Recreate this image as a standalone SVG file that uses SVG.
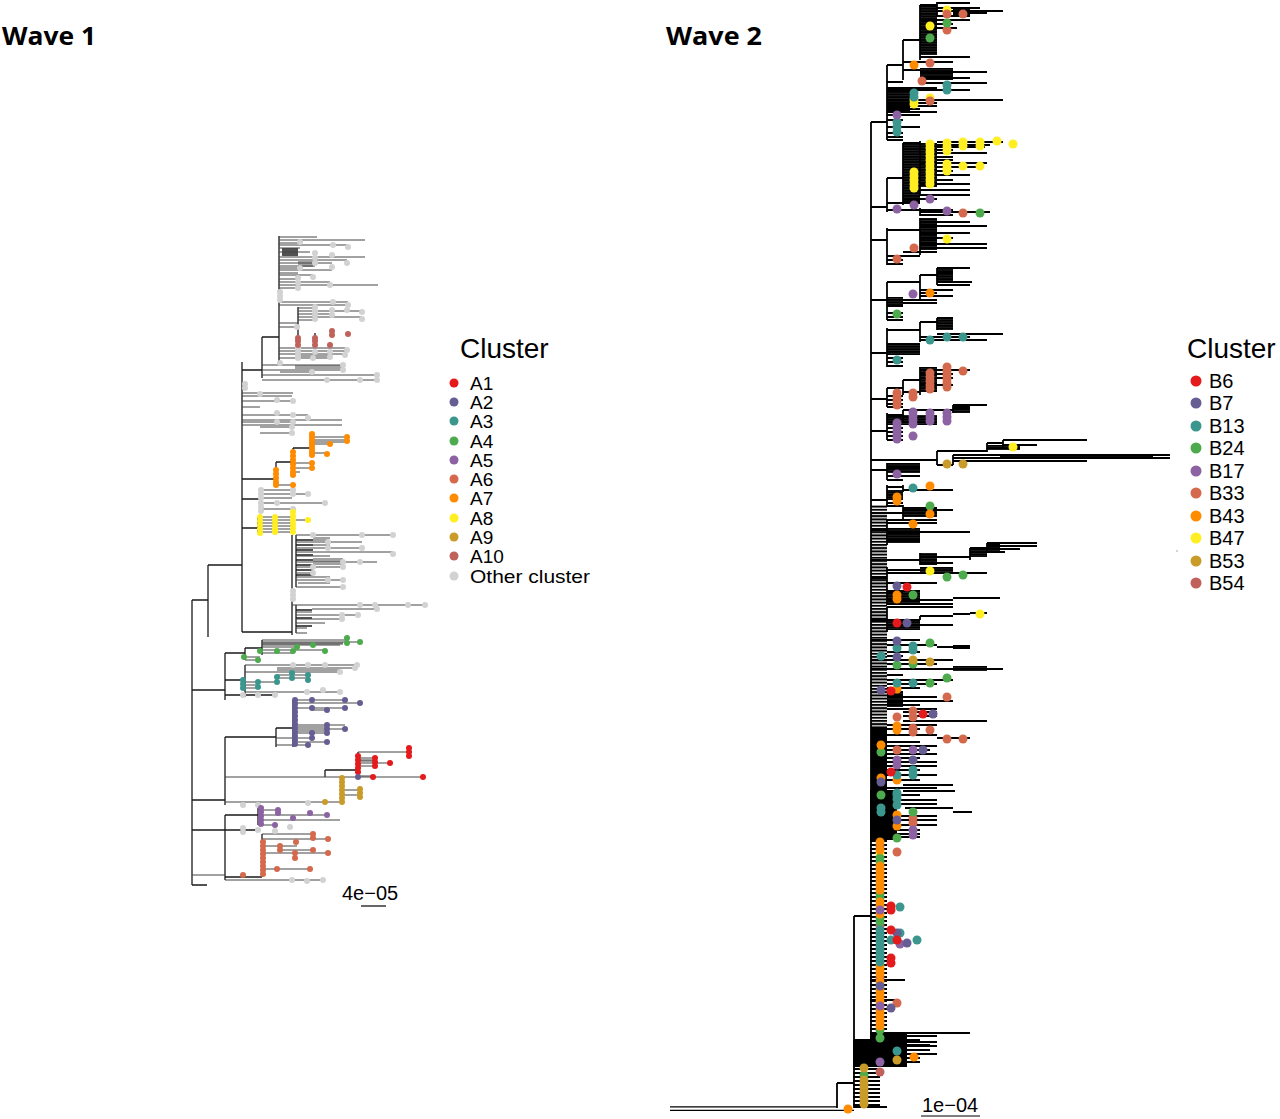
<svg xmlns="http://www.w3.org/2000/svg" width="1280" height="1119" viewBox="0 0 1280 1119">
<style>
.t{font-family:"Open Sans","Liberation Sans",sans-serif;font-weight:bold;font-size:25px;fill:#000}
.lg{font-family:"Liberation Sans",Arial,sans-serif;fill:#000}
.w1l{stroke:#444;stroke-width:1;fill:none}
.w1d{stroke:#1a1a1a;stroke-width:1.3;fill:none}
.w2l{stroke:#000;stroke-width:1.8;fill:none}
.w1 circle{r:3px}
.w2 circle{r:4.5px}
.c0{fill:#d2d2d2}.c1{fill:#e41a1c}.c2{fill:#665e93}.c3{fill:#3b978e}.c4{fill:#4dab4d}.c5{fill:#8c62a3}.c6{fill:#d4694e}.c7{fill:#ff8c00}.c8{fill:#ffee22}.c9{fill:#c99c29}.c10{fill:#c0625b}
</style>
<defs>
<pattern id="comb" width="4" height="3.2" patternUnits="userSpaceOnUse"><rect width="4" height="2" fill="#000"/></pattern>
<pattern id="comb2" width="4" height="4" patternUnits="userSpaceOnUse"><rect width="4" height="2" fill="#000"/></pattern>
<pattern id="dense" width="4" height="2.6" patternUnits="userSpaceOnUse"><rect width="4" height="2.6" fill="#333"/><rect width="4" height="2" fill="#000"/></pattern>
</defs>
<rect width="1280" height="1119" fill="#fff"/>
<text class="t" x="2" y="45" textLength="94" lengthAdjust="spacingAndGlyphs">Wave 1</text>
<text class="t" x="666" y="45" textLength="96" lengthAdjust="spacingAndGlyphs">Wave 2</text>

<g id="wave1-tree" class="w1">
<path class="w1d" d="M192 600 V885 M192 885 H207 M192 600 H208 M208 565 V637 M208 565 H242 M242 362 V632 M242 632 H292 M292 535 V635 M242 370 H262 M262 337 V378 M262 337 H279 M279 236 V362 M298 307 V358 M315 333 V345 M242 479 H276 M276 462 V487 M276 462 H293 M293 448 V475 M293 448 H312 M312 433 V455 M242 499 H261 M261 488 V512 M242 528 H258 M258 517 V533 M296 535 V587 M296 605 V633 M192 690 H225 M225 653 V700 M225 653 H245 M245 648 V660 M245 648 H262 M262 640 V655 M225 680 H245 M245 665 V697 M192 800 H225 M225 737 V805 M225 737 H276 M276 728 V747 M276 728 H293 M293 700 V747 M325 770 V777 M325 770 H358 M358 752 V777 M342 778 V803 M225 815 H258 M258 807 V825 M192 830 H225 M225 815 V880 M225 877 H262 M262 834 V877 M282 249 H298 M282 251 H298 M282 253 H298 M282 255 H298 M225 830 H260 M225 695 H275 M296 540 H313 M296 545 H313 M296 550 H313 M296 555 H313 M296 560 H313 M296 565 H313 M296 570 H313 M296 575 H313 M296 610 H312 M296 618 H312 M296 626 H312"/>
<path class="w1l" d="M279 237 H317 M279 240 H365 M279 243 H300 M279 245 H348 M279 248 H300 M279 252 H310 M279 257 H365 M279 260 H347 M279 263 H332 M279 266 H315 M279 268 H300 M279 270 H332 M279 273 H298 M279 275 H313 M279 279 H298 M279 282 H330 M279 285 H378 M279 288 H298 M298 262 H313 M298 264 H313 M298 266 H313
M279 302 H348 M279 305 H348 M298 308 H315 M298 311 H362 M298 314 H332 M298 317 H362 M298 320 H315 M279 323 H298 M279 327 H297 M279 348 H345 M279 351 H347 M279 354 H345 M279 358 H330 M298 356 H330
M262 365 H343 M262 370 H343 M280 372 H312 M262 375 H377 M262 380 H377 M295 366 H343 M295 368 H343
M242 393 H293 M242 396 H292 M242 401 H293 M242 407 H260 M242 415 H308 M242 420 H342 M242 422 H293 M242 425 H342 M260 427 H292 M260 433 H292
M261 490 H293 M261 494 H308 M261 498 H292 M261 503 H325 M261 509 H293
M296 535 H393 M313 538 H330 M296 542 H362 M313 545 H330 M296 548 H362 M296 552 H393 M296 556 H330 M313 559 H343 M296 562 H377 M296 567 H343 M296 573 H313 M296 577 H330 M296 580 H343 M296 587 H343 M292 605 H425 M312 609 H377 M296 612 H312 M296 615 H358 M296 619 H342 M296 623 H325 M296 628 H307 M296 633 H307 M313 540 H328 M313 561 H343 M313 564 H343 M298 583 H330
M245 665 H357 M277 668 H355 M245 672 H340 M277 675 H308 M277 678 H308 M245 682 H277 M245 685 H258 M245 688 H260 M245 692 H340 M277 670 H340
M225 777 H423 M192 875 H225 M225 880 H323 M225 802 H342"/>
<path class="w1l" d="M312 437 H347 M312 440 H347 M312 442 H347 M312 444 H330 M312 453 H327 M293 463 H312 M293 468 H312 M293 472 H300 M276 485 H293
M258 517 H293 M258 520 H308 M258 523 H293 M258 526 H293 M258 529 H293 M258 532 H293
M262 640 H347 M262 642 H360 M262 643 H343 M262 644 H343 M262 645 H340 M262 647 H297 M262 650 H325 M262 653 H293 M245 657 H260 M245 660 H258
M293 700 H345 M293 703 H360 M293 708 H345 M312 710 H327 M293 725 H345 M293 727 H327 M293 729 H345 M293 731 H327 M293 733 H327 M276 738 H312 M293 742 H327 M276 745 H308
M358 752 H410 M358 758 H375 M358 760 H375 M358 761 H375 M358 763 H390 M358 766 H375 M358 776 H373 M342 790 H360 M342 795 H360
M258 810 H278 M258 815 H327 M258 820 H340 M258 825 H275
M262 834 H313 M262 839 H328 M262 846 H297 M280 850 H313 M262 853 H328 M262 869 H310"/>
<g class="c0">
<circle cx="300" cy="242"/><circle cx="333" cy="245"/><circle cx="348" cy="247"/><circle cx="315" cy="253"/><circle cx="332" cy="255"/><circle cx="315" cy="258"/><circle cx="315" cy="263"/><circle cx="347" cy="263"/><circle cx="332" cy="267"/><circle cx="300" cy="268"/><circle cx="313" cy="277"/><circle cx="298" cy="278"/><circle cx="298" cy="283"/><circle cx="298" cy="288"/><circle cx="330" cy="285"/><circle cx="280" cy="292"/><circle cx="280" cy="296"/><circle cx="280" cy="300"/>
<circle cx="333" cy="302"/><circle cx="348" cy="305"/><circle cx="315" cy="307"/><circle cx="315" cy="311"/><circle cx="315" cy="315"/><circle cx="315" cy="319"/><circle cx="332" cy="310"/><circle cx="347" cy="310"/><circle cx="362" cy="312"/><circle cx="332" cy="315"/><circle cx="362" cy="319"/><circle cx="297" cy="327"/><circle cx="298" cy="348"/><circle cx="298" cy="352"/><circle cx="298" cy="355"/><circle cx="315" cy="352"/><circle cx="330" cy="352"/><circle cx="347" cy="350"/><circle cx="345" cy="355"/><circle cx="298" cy="358"/><circle cx="313" cy="358"/><circle cx="330" cy="357"/><circle cx="280" cy="363"/><circle cx="343" cy="365"/><circle cx="343" cy="370"/><circle cx="312" cy="372"/><circle cx="377" cy="375"/><circle cx="360" cy="380"/><circle cx="377" cy="380"/><circle cx="327" cy="380"/>
<circle cx="245" cy="384"/><circle cx="245" cy="388"/><circle cx="260" cy="394"/><circle cx="277" cy="400"/><circle cx="293" cy="401"/><circle cx="277" cy="413"/><circle cx="293" cy="415"/><circle cx="308" cy="418"/><circle cx="277" cy="422"/><circle cx="293" cy="422"/><circle cx="292" cy="427"/><circle cx="292" cy="433"/>
<circle cx="261" cy="490"/><circle cx="293" cy="490"/><circle cx="261" cy="494"/><circle cx="293" cy="494"/><circle cx="308" cy="494"/><circle cx="261" cy="498"/><circle cx="261" cy="503"/><circle cx="277" cy="503"/><circle cx="325" cy="503"/><circle cx="261" cy="507"/><circle cx="261" cy="511"/><circle cx="293" cy="509"/>
<circle cx="313" cy="535"/><circle cx="362" cy="535"/><circle cx="393" cy="535"/><circle cx="328" cy="542"/><circle cx="328" cy="548"/><circle cx="362" cy="548"/><circle cx="393" cy="554"/><circle cx="343" cy="562"/><circle cx="360" cy="562"/><circle cx="313" cy="567"/><circle cx="343" cy="567"/><circle cx="313" cy="573"/><circle cx="328" cy="580"/><circle cx="343" cy="580"/><circle cx="343" cy="587"/><circle cx="293" cy="591"/><circle cx="293" cy="595"/><circle cx="293" cy="599"/><circle cx="360" cy="605"/><circle cx="375" cy="605"/><circle cx="408" cy="605"/><circle cx="425" cy="605"/><circle cx="377" cy="609"/><circle cx="342" cy="615"/><circle cx="358" cy="615"/><circle cx="342" cy="619"/>
<circle cx="293" cy="665"/><circle cx="308" cy="665"/><circle cx="325" cy="665"/><circle cx="357" cy="665"/><circle cx="355" cy="668"/><circle cx="340" cy="672"/><circle cx="307" cy="692"/><circle cx="323" cy="690"/><circle cx="340" cy="692"/><circle cx="243" cy="695"/><circle cx="258" cy="695"/><circle cx="275" cy="695"/>
<circle cx="308" cy="803"/><circle cx="258" cy="805"/><circle cx="243" cy="805"/><circle cx="243" cy="828"/><circle cx="243" cy="832"/><circle cx="258" cy="830"/><circle cx="275" cy="831"/><circle cx="290" cy="827"/><circle cx="292" cy="880"/><circle cx="307" cy="881"/><circle cx="323" cy="880"/>
</g>
<g class="c10"><circle cx="332" cy="331"/><circle cx="332" cy="335"/><circle cx="348" cy="334"/><circle cx="298" cy="338"/><circle cx="298" cy="341"/><circle cx="298" cy="345"/><circle cx="315" cy="338"/><circle cx="315" cy="341"/><circle cx="315" cy="345"/><circle cx="330" cy="345"/></g>
<g class="c7"><circle cx="312" cy="434"/><circle cx="312" cy="437"/><circle cx="312" cy="440"/><circle cx="312" cy="443"/><circle cx="312" cy="446"/><circle cx="312" cy="449"/><circle cx="312" cy="452"/><circle cx="312" cy="455"/><circle cx="347" cy="437"/><circle cx="347" cy="441"/><circle cx="330" cy="444"/><circle cx="327" cy="454"/><circle cx="312" cy="463"/><circle cx="312" cy="468"/><circle cx="293" cy="452"/><circle cx="293" cy="456"/><circle cx="293" cy="460"/><circle cx="293" cy="464"/><circle cx="293" cy="468"/><circle cx="293" cy="472"/><circle cx="293" cy="475"/><circle cx="276" cy="470"/><circle cx="276" cy="474"/><circle cx="276" cy="478"/><circle cx="276" cy="482"/><circle cx="276" cy="485"/><circle cx="293" cy="485"/></g>
<g class="c8"><circle cx="260" cy="517"/><circle cx="260" cy="521"/><circle cx="260" cy="525"/><circle cx="260" cy="529"/><circle cx="260" cy="533"/><circle cx="275" cy="517"/><circle cx="275" cy="521"/><circle cx="275" cy="525"/><circle cx="275" cy="529"/><circle cx="275" cy="532"/><circle cx="293" cy="512"/><circle cx="293" cy="516"/><circle cx="293" cy="520"/><circle cx="293" cy="524"/><circle cx="293" cy="528"/><circle cx="293" cy="532"/><circle cx="308" cy="520"/></g>
<g class="c4"><circle cx="347" cy="638"/><circle cx="347" cy="643"/><circle cx="360" cy="642"/><circle cx="313" cy="645"/><circle cx="297" cy="647"/><circle cx="260" cy="651"/><circle cx="277" cy="651"/><circle cx="293" cy="651"/><circle cx="325" cy="651"/><circle cx="244" cy="657"/><circle cx="258" cy="660"/></g>
<g class="c3"><circle cx="277" cy="677"/><circle cx="277" cy="682"/><circle cx="292" cy="673"/><circle cx="292" cy="678"/><circle cx="308" cy="675"/><circle cx="308" cy="680"/><circle cx="243" cy="680"/><circle cx="243" cy="684"/><circle cx="243" cy="688"/><circle cx="258" cy="682"/><circle cx="258" cy="687"/></g>
<g class="c2"><circle cx="295" cy="700"/><circle cx="295" cy="704"/><circle cx="295" cy="708"/><circle cx="295" cy="712"/><circle cx="295" cy="716"/><circle cx="295" cy="720"/><circle cx="295" cy="724"/><circle cx="295" cy="728"/><circle cx="295" cy="732"/><circle cx="295" cy="736"/><circle cx="295" cy="740"/><circle cx="295" cy="744"/><circle cx="312" cy="700"/><circle cx="345" cy="700"/><circle cx="360" cy="703"/><circle cx="312" cy="708"/><circle cx="345" cy="708"/><circle cx="327" cy="710"/><circle cx="327" cy="725"/><circle cx="327" cy="729"/><circle cx="345" cy="729"/><circle cx="327" cy="733"/><circle cx="312" cy="733"/><circle cx="312" cy="738"/><circle cx="327" cy="742"/><circle cx="308" cy="745"/></g>
<g class="c1"><circle cx="358" cy="756"/><circle cx="358" cy="760"/><circle cx="358" cy="764"/><circle cx="358" cy="768"/><circle cx="358" cy="772"/><circle cx="375" cy="758"/><circle cx="375" cy="762"/><circle cx="375" cy="766"/><circle cx="409" cy="748"/><circle cx="409" cy="752"/><circle cx="409" cy="756"/><circle cx="390" cy="763"/><circle cx="373" cy="777"/><circle cx="423" cy="777"/></g>
<g class="c2"><circle cx="358" cy="777"/></g>
<g class="c9"><circle cx="342" cy="778"/><circle cx="342" cy="782"/><circle cx="342" cy="786"/><circle cx="342" cy="790"/><circle cx="342" cy="794"/><circle cx="342" cy="798"/><circle cx="342" cy="802"/><circle cx="360" cy="789"/><circle cx="360" cy="793"/><circle cx="360" cy="797"/><circle cx="325" cy="802"/></g>
<g class="c5"><circle cx="261" cy="808"/><circle cx="261" cy="812"/><circle cx="261" cy="816"/><circle cx="261" cy="820"/><circle cx="261" cy="824"/><circle cx="278" cy="810"/><circle cx="278" cy="813"/><circle cx="293" cy="818"/><circle cx="310" cy="813"/><circle cx="327" cy="815"/><circle cx="275" cy="825"/></g>
<g class="c6"><circle cx="313" cy="834"/><circle cx="313" cy="838"/><circle cx="328" cy="839"/><circle cx="296" cy="842"/><circle cx="280" cy="846"/><circle cx="280" cy="850"/><circle cx="313" cy="850"/><circle cx="328" cy="853"/><circle cx="295" cy="853"/><circle cx="295" cy="858"/><circle cx="277" cy="869"/><circle cx="310" cy="869"/><circle cx="263" cy="842"/><circle cx="263" cy="846"/><circle cx="263" cy="850"/><circle cx="263" cy="854"/><circle cx="263" cy="858"/><circle cx="263" cy="862"/><circle cx="263" cy="866"/><circle cx="263" cy="870"/><circle cx="263" cy="874"/><circle cx="243" cy="875"/></g>
</g>
<g id="wave1-scale">
<path d="M361 906 H386" stroke="#000" stroke-width="1.2"/>
<text class="lg" x="342" y="900" font-size="20">4e−05</text>
</g>
<g id="wave1-legend" class="lg">
<text x="460" y="358" font-size="28">Cluster</text>
<g font-size="19">
<circle class="c1" cx="454" cy="383" r="4.5"/><text x="470" y="389.5">A1</text>
<circle class="c2" cx="454" cy="402" r="4.5"/><text x="470" y="408.5">A2</text>
<circle class="c3" cx="454" cy="421" r="4.5"/><text x="470" y="427.5">A3</text>
<circle class="c4" cx="454" cy="441" r="4.5"/><text x="470" y="447.5">A4</text>
<circle class="c5" cx="454" cy="460" r="4.5"/><text x="470" y="466.5">A5</text>
<circle class="c6" cx="454" cy="479" r="4.5"/><text x="470" y="485.5">A6</text>
<circle class="c7" cx="454" cy="498" r="4.5"/><text x="470" y="504.5">A7</text>
<circle class="c8" cx="454" cy="518" r="4.5"/><text x="470" y="524.5">A8</text>
<circle class="c9" cx="454" cy="537" r="4.5"/><text x="470" y="543.5">A9</text>
<circle class="c10" cx="454" cy="556" r="4.5"/><text x="470" y="562.5">A10</text>
<circle class="c0" cx="454" cy="576" r="4.5"/><text x="470" y="582.5" textLength="120" lengthAdjust="spacingAndGlyphs">Other cluster</text>
</g>
</g>

<g id="wave2-tree" class="w2">
<path d="M670 1106.8 H837 M670 1110.4 H854" stroke="#000" stroke-width="1.2" fill="none"/>
<g fill="url(#dense)">
<rect x="920" y="5" width="17" height="50"/><rect x="953" y="8" width="17" height="9"/><rect x="920" y="68" width="33" height="12"/><rect x="887" y="90" width="23" height="23"/>
<rect x="903" y="143" width="17" height="60"/><rect x="920" y="143" width="17" height="44"/><rect x="920" y="218" width="17" height="32"/>
<rect x="937" y="268" width="16" height="15"/><rect x="887" y="297" width="16" height="10"/><rect x="937" y="318" width="16" height="12"/><rect x="887" y="343" width="33" height="12"/>
<rect x="920" y="367" width="17" height="25"/><rect x="953" y="405" width="17" height="8"/><rect x="887" y="415" width="50" height="10"/>
<rect x="987" y="445" width="33" height="5"/><rect x="1000" y="454" width="153" height="5"/><rect x="887" y="463" width="33" height="10"/><rect x="887" y="490" width="16" height="10"/><rect x="903" y="507" width="34" height="10"/>
<rect x="887" y="528" width="33" height="15"/><rect x="920" y="553" width="17" height="12"/><rect x="970" y="548" width="17" height="9"/><rect x="987" y="543" width="13" height="10"/><rect x="920" y="567" width="33" height="6"/><rect x="887" y="590" width="33" height="13"/><rect x="887" y="620" width="33" height="10"/>
<rect x="953" y="645" width="17" height="4"/><rect x="953" y="666" width="34" height="5"/><rect x="887" y="693" width="16" height="14"/>
</g>
<g fill="#000">
<rect x="871" y="727" width="16" height="73"/><rect x="870" y="790" width="27" height="50"/><rect x="870" y="1033" width="37" height="17"/><rect x="853" y="1040" width="54" height="27"/>
</g>
<rect x="871" y="505" width="16" height="222" fill="url(#comb)"/>
<rect x="870" y="840" width="17" height="195" fill="url(#comb2)"/>
<rect x="853" y="1067" width="27" height="40" fill="url(#comb2)"/>
<path class="w2l" d="M871 122 V1045 M854 916 V1108 M854 916 H871 M837 1083 V1108 M837 1083 H854 M854 1107 H887 M854 1040 H870 M854 1047 H870
M871 122 H887 M887 65 V140 M887 65 H903 M903 40 V80 M903 40 H920 M920 5 V60 M920 5 H937 M937 2 V16
M937 3 H970 M937 8 H980 M937 11 H1003 M953 13 H987 M937 16 H970 M920 20 H970 M920 24 H953 M920 28 H957 M920 57 H970
M903 62 H953 M903 70 H920 M920 72 H987 M920 78 H970 M887 82 H903 M920 83 H987 M887 88 H937 M887 90 H970
M887 100 H1003 M887 103 H937 M887 106 H937 M887 109 H920 M887 112 H937 M887 115 H920 M887 120 H903 M887 127 H920 M887 133 H903 M887 137 H903 M887 140 H903
M871 207 H887 M887 178 V212 M887 178 H903 M903 143 V205 M903 143 H920 M920 141 V195
M937 142 H1003 M937 145 H990 M937 147 H985 M937 150 H953 M937 153 H987 M937 157 H953 M937 160 H953 M920 163 H987 M937 167 H980 M937 171 H953 M937 175 H970 M937 180 H953 M920 184 H970 M920 190 H970 M920 195 H970 M903 199 H937 M887 203 H920
M887 210 H920 M920 208 V216 M920 210 H953 M920 212 H990 M920 215 H953
M871 240 H887 M887 228 V265 M887 230 H920 M920 218 V255 M920 222 H970 M920 226 H987 M920 233 H970 M920 238 H953 M920 244 H987 M920 248 H987 M903 252 H937 M887 256 H920 M887 260 H903 M887 264 H903
M871 300 H887 M887 282 V320 M887 282 H920 M920 275 V300 M920 275 H937 M937 268 V285 M937 268 H970 M937 272 H953 M937 282 H972 M937 285 H970 M920 290 H953 M920 293 H937 M920 296 H953 M903 300 H937 M903 303 H937 M887 306 H903 M887 313 H903 M887 317 H903 M887 320 H903
M871 353 H887 M887 328 V367 M887 330 H920 M920 322 V342 M920 322 H937 M937 318 V330 M937 318 H953 M937 334 H1003 M920 337 H970 M920 340 H987 M887 358 H903 M887 362 H903 M887 366 H903
M871 399 H887 M887 388 V407 M887 388 H903 M903 380 V395 M903 380 H920 M920 367 V395 M920 370 H970 M920 374 H953 M920 378 H953 M920 385 H953 M903 392 H920 M887 396 H903 M887 400 H903 M887 404 H903 M887 407 H903
M871 431 H887 M887 413 V440 M887 415 H903 M903 410 V422 M903 410 H953 M953 405 V413 M953 405 H987 M953 408 H970 M887 428 H903 M887 432 H903 M887 436 H903 M887 440 H903
M871 460 H937 M937 451 V465 M937 451 H987 M987 443 V452 M987 443 H1003 M1003 440 V448 M1003 440 H1087 M1003 445 H1037 M937 465 H953 M953 455 V465 M953 455 H1170 M953 458 H1170 M953 461 H1087
M871 470 H887 M887 463 V480 M887 468 H920 M887 476 H920 M887 480 H903
M871 500 H887 M887 485 V507 M887 487 H903 M903 485 V492 M903 490 H953 M887 503 H903 M887 506 H903
M871 513 H903 M903 505 V520 M903 510 H953 M903 520 H937
M871 530 H887 M887 520 V545 M887 520 H903 M887 523 H937 M887 532 H970 M887 540 H920
M871 560 H920 M920 553 V565 M920 557 H970 M970 548 V560 M970 548 H987 M987 543 V553 M987 543 H1037 M987 546 H1037 M987 549 H1020 M987 552 H1005 M920 563 H953
M871 578 H887 M887 567 V605 M887 570 H920 M887 573 H987 M887 583 H937 M887 592 H903 M887 600 H953 M953 598 H1000 M887 604 H953
M871 620 H887 M887 607 V632 M887 607 H953 M887 620 H920 M920 616 V620 M920 616 H953 M953 614 H970 M970 613 H987 M887 625 H953
M871 640 H920 M887 645 H937 M937 647 H970 M887 652 H920 M887 656 H903 M871 660 H953 M887 664 H937 M871 669 H1003 M887 675 H903 M887 680 H953 M887 684 H937 M887 688 H920 M887 692 H903
M887 697 H937 M887 701 H953 M887 705 H920 M887 709 H937 M903 712 H937 M903 716 H937 M903 721 H987 M887 725 H937 M887 729 H920 M887 735 H937 M937 738 H970 M887 742 H920 M887 746 H937 M887 750 H930 M887 754 H937 M887 758 H920 M887 762 H937 M887 766 H937 M887 770 H920 M887 775 H937 M887 780 H920 M903 785 H953 M887 788 H937 M903 791 H955 M887 795 H920
M897 800 H937 M897 804 H937 M905 808 H953 M953 812 H972 M897 816 H937 M897 820 H937 M897 825 H937 M897 830 H920 M897 834 H920 M897 837 H920
M870 980 H905 M870 1000 H897 M870 1033 H970 M870 1036 H937 M870 1040 H920 M870 1045 H930
M853 1042 H937 M853 1046 H937 M853 1050 H930 M853 1054 H937 M853 1058 H920 M853 1062 H920 M853 1066 H905"/>
<g class="c8"><circle cx="947" cy="10"/><circle cx="930" cy="26"/><circle cx="914" cy="100"/><circle cx="914" cy="104"/><circle cx="930" cy="98"/>
<circle cx="930" cy="144"/><circle cx="930" cy="148"/><circle cx="930" cy="152"/><circle cx="930" cy="156"/><circle cx="930" cy="160"/><circle cx="930" cy="164"/><circle cx="930" cy="168"/><circle cx="930" cy="172"/><circle cx="930" cy="176"/><circle cx="930" cy="180"/><circle cx="930" cy="184"/><circle cx="914" cy="172"/><circle cx="914" cy="176"/><circle cx="914" cy="180"/><circle cx="914" cy="184"/><circle cx="914" cy="188"/><circle cx="947" cy="143"/><circle cx="947" cy="147"/><circle cx="947" cy="151"/><circle cx="947" cy="164"/><circle cx="947" cy="168"/><circle cx="947" cy="171"/><circle cx="963" cy="142"/><circle cx="963" cy="146"/><circle cx="963" cy="166"/><circle cx="980" cy="142"/><circle cx="980" cy="146"/><circle cx="980" cy="166"/><circle cx="997" cy="141"/><circle cx="1013" cy="144"/><circle cx="947" cy="239"/>
<circle cx="1013" cy="447"/><circle cx="930" cy="571"/><circle cx="980" cy="614"/><circle cx="880" cy="854"/></g>
<g class="c6"><circle cx="947" cy="14"/><circle cx="963" cy="14"/><circle cx="947" cy="30"/><circle cx="930" cy="63"/><circle cx="922" cy="81"/><circle cx="930" cy="101"/><circle cx="963" cy="213"/><circle cx="914" cy="248"/><circle cx="897" cy="259"/>
<circle cx="897" cy="393"/><circle cx="897" cy="397"/><circle cx="897" cy="401"/><circle cx="897" cy="405"/><circle cx="913" cy="393"/><circle cx="913" cy="397"/><circle cx="930" cy="373"/><circle cx="930" cy="377"/><circle cx="930" cy="381"/><circle cx="930" cy="385"/><circle cx="930" cy="389"/><circle cx="947" cy="367"/><circle cx="947" cy="371"/><circle cx="947" cy="375"/><circle cx="947" cy="379"/><circle cx="947" cy="383"/><circle cx="947" cy="387"/><circle cx="963" cy="371"/>
<circle cx="947" cy="697"/><circle cx="913" cy="711"/><circle cx="897" cy="717"/><circle cx="913" cy="717"/><circle cx="913" cy="728"/><circle cx="913" cy="732"/><circle cx="930" cy="730"/><circle cx="947" cy="739"/><circle cx="963" cy="739"/><circle cx="897" cy="750"/><circle cx="913" cy="818"/><circle cx="913" cy="823"/><circle cx="880" cy="846"/><circle cx="897" cy="852"/><circle cx="880" cy="978"/><circle cx="897" cy="1003"/></g>
<g class="c10"><circle cx="880" cy="926"/><circle cx="880" cy="1072"/></g>
<g class="c4"><circle cx="947" cy="23"/><circle cx="930" cy="38"/><circle cx="980" cy="213"/><circle cx="897" cy="314"/><circle cx="947" cy="577"/><circle cx="963" cy="575"/><circle cx="913" cy="595"/><circle cx="930" cy="643"/><circle cx="897" cy="665"/><circle cx="913" cy="664"/><circle cx="930" cy="683"/><circle cx="947" cy="678"/><circle cx="881" cy="752"/><circle cx="881" cy="795"/><circle cx="913" cy="812"/><circle cx="897" cy="838"/><circle cx="880" cy="858"/><circle cx="880" cy="862"/><circle cx="880" cy="894"/><circle cx="880" cy="898"/><circle cx="880" cy="918"/><circle cx="880" cy="922"/><circle cx="880" cy="1030"/><circle cx="880" cy="1038"/><circle cx="864" cy="1075"/><circle cx="930" cy="506"/></g>
<g class="c7"><circle cx="914" cy="65"/><circle cx="930" cy="293"/><circle cx="930" cy="486"/><circle cx="897" cy="497"/><circle cx="897" cy="501"/><circle cx="930" cy="514"/><circle cx="913" cy="524"/><circle cx="897" cy="595"/><circle cx="897" cy="599"/><circle cx="897" cy="689"/><circle cx="897" cy="726"/><circle cx="897" cy="730"/><circle cx="881" cy="745"/><circle cx="897" cy="780"/><circle cx="881" cy="778"/><circle cx="897" cy="815"/><circle cx="897" cy="826"/><circle cx="914" cy="1057"/><circle cx="848" cy="1109"/>
<circle cx="880" cy="842"/><circle cx="880" cy="850"/><circle cx="880" cy="866"/><circle cx="880" cy="870"/><circle cx="880" cy="874"/><circle cx="880" cy="878"/><circle cx="880" cy="882"/><circle cx="880" cy="886"/><circle cx="880" cy="890"/><circle cx="880" cy="902"/><circle cx="880" cy="906"/><circle cx="880" cy="914"/><circle cx="880" cy="966"/><circle cx="880" cy="970"/><circle cx="880" cy="974"/><circle cx="880" cy="982"/><circle cx="880" cy="990"/><circle cx="880" cy="994"/><circle cx="880" cy="998"/><circle cx="880" cy="1002"/><circle cx="880" cy="1010"/><circle cx="880" cy="1014"/><circle cx="880" cy="1018"/><circle cx="880" cy="1022"/><circle cx="880" cy="1026"/></g>
<g class="c3"><circle cx="947" cy="85"/><circle cx="947" cy="90"/><circle cx="914" cy="93"/><circle cx="914" cy="97"/><circle cx="897" cy="122"/><circle cx="897" cy="127"/><circle cx="897" cy="132"/><circle cx="930" cy="340"/><circle cx="947" cy="337"/><circle cx="963" cy="337"/><circle cx="897" cy="360"/><circle cx="913" cy="488"/><circle cx="897" cy="648"/><circle cx="913" cy="646"/><circle cx="913" cy="650"/><circle cx="881" cy="656"/><circle cx="897" cy="683"/><circle cx="913" cy="683"/><circle cx="913" cy="770"/><circle cx="913" cy="775"/><circle cx="897" cy="775"/><circle cx="897" cy="795"/><circle cx="897" cy="793"/><circle cx="897" cy="799"/><circle cx="881" cy="808"/><circle cx="881" cy="812"/><circle cx="897" cy="805"/>
<circle cx="900" cy="907"/><circle cx="900" cy="933"/><circle cx="891" cy="940"/><circle cx="917" cy="940"/><circle cx="880" cy="930"/><circle cx="880" cy="934"/><circle cx="880" cy="938"/><circle cx="880" cy="942"/><circle cx="880" cy="946"/><circle cx="880" cy="950"/><circle cx="880" cy="954"/><circle cx="880" cy="958"/><circle cx="880" cy="962"/><circle cx="897" cy="1051"/></g>
<g class="c5"><circle cx="897" cy="115"/><circle cx="930" cy="199"/><circle cx="914" cy="205"/><circle cx="897" cy="209"/><circle cx="947" cy="211"/><circle cx="913" cy="294"/>
<circle cx="897" cy="423"/><circle cx="897" cy="427"/><circle cx="897" cy="431"/><circle cx="897" cy="435"/><circle cx="897" cy="439"/><circle cx="913" cy="412"/><circle cx="913" cy="416"/><circle cx="913" cy="420"/><circle cx="913" cy="424"/><circle cx="913" cy="436"/><circle cx="930" cy="413"/><circle cx="930" cy="417"/><circle cx="930" cy="421"/><circle cx="947" cy="413"/><circle cx="947" cy="417"/><circle cx="947" cy="421"/><circle cx="897" cy="474"/><circle cx="913" cy="750"/><circle cx="897" cy="760"/><circle cx="897" cy="765"/><circle cx="913" cy="830"/><circle cx="913" cy="835"/><circle cx="880" cy="910"/><circle cx="900" cy="944"/><circle cx="880" cy="1006"/><circle cx="880" cy="1062"/></g>
<g class="c2"><circle cx="897" cy="586"/><circle cx="907" cy="623"/><circle cx="897" cy="641"/><circle cx="897" cy="657"/><circle cx="881" cy="690"/><circle cx="933" cy="714"/><circle cx="923" cy="750"/><circle cx="913" cy="760"/><circle cx="881" cy="782"/><circle cx="897" cy="820"/><circle cx="897" cy="933"/><circle cx="907" cy="943"/><circle cx="880" cy="986"/><circle cx="891" cy="1008"/></g>
<g class="c1"><circle cx="907" cy="587"/><circle cx="897" cy="623"/><circle cx="891" cy="691"/><circle cx="923" cy="714"/><circle cx="891" cy="772"/><circle cx="891" cy="906"/><circle cx="891" cy="910"/><circle cx="891" cy="930"/><circle cx="897" cy="940"/><circle cx="891" cy="958"/><circle cx="891" cy="963"/></g>
<g class="c9"><circle cx="947" cy="464"/><circle cx="963" cy="464"/><circle cx="913" cy="660"/><circle cx="930" cy="662"/><circle cx="897" cy="1060"/><circle cx="864" cy="1068"/><circle cx="864" cy="1080"/><circle cx="864" cy="1084"/><circle cx="864" cy="1088"/><circle cx="864" cy="1092"/><circle cx="864" cy="1096"/><circle cx="864" cy="1100"/><circle cx="864" cy="1104"/></g>
</g>
<rect x="1176.5" y="550.5" width="1" height="1" fill="#555"/>
<g id="wave2-scale">
<path d="M921 1116 H980" stroke="#000" stroke-width="1.2"/>
<text class="lg" x="922" y="1112" font-size="20">1e−04</text>
</g>
<g id="wave2-legend" class="lg">
<text x="1187" y="358" font-size="28">Cluster</text>
<g font-size="20">
<circle class="c1" cx="1196" cy="381" r="5.5"/><text x="1209" y="388">B6</text>
<circle class="c2" cx="1196" cy="403" r="5.5"/><text x="1209" y="410">B7</text>
<circle class="c3" cx="1196" cy="426" r="5.5"/><text x="1209" y="433">B13</text>
<circle class="c4" cx="1196" cy="448" r="5.5"/><text x="1209" y="455">B24</text>
<circle class="c5" cx="1196" cy="471" r="5.5"/><text x="1209" y="478">B17</text>
<circle class="c6" cx="1196" cy="493" r="5.5"/><text x="1209" y="500">B33</text>
<circle class="c7" cx="1196" cy="516" r="5.5"/><text x="1209" y="523">B43</text>
<circle class="c8" cx="1196" cy="538" r="5.5"/><text x="1209" y="545">B47</text>
<circle class="c9" cx="1196" cy="561" r="5.5"/><text x="1209" y="568">B53</text>
<circle class="c10" cx="1196" cy="583" r="5.5"/><text x="1209" y="590">B54</text>
</g>
</g>
</svg>
